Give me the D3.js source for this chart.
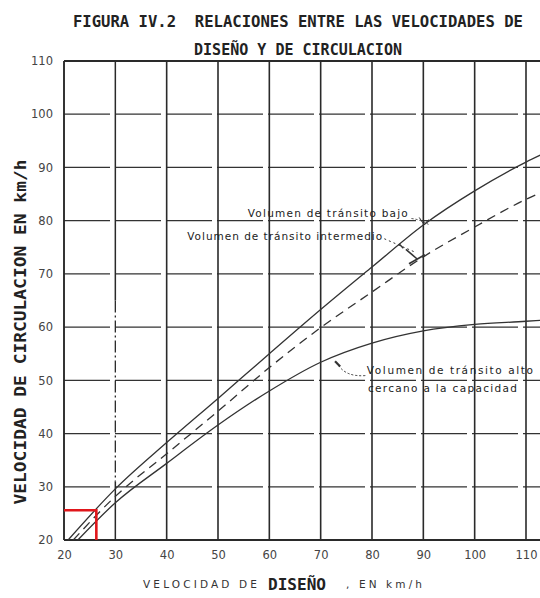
<!DOCTYPE html>
<html>
<head>
<meta charset="utf-8">
<script src="https://cdn.jsdelivr.net/npm/d3@7"></script>
<style>
  html, body { margin: 0; padding: 0; background: #fff; }
  svg { display: block; }
</style>
</head>
<body>
<svg id="chart" width="540" height="598"></svg>
<script>
// ---------- data ----------
const tickValues = [20, 30, 40, 50, 60, 70, 80, 90, 100, 110];
const tickLabels = ["20", "30", "40", "50", "60", "70", "80", "90", "100", "110"];

// Volumen de tránsito bajo (solid, upper)
const lowDesign   = [20.8, 30, 40, 50, 60, 70, 80, 90, 100, 110, 113];
const lowRunning  = [20, 29.6, 38.3, 46.6, 55, 63.3, 71.3, 79.2, 85.6, 91, 92.4];
// Volumen de tránsito intermedio (dashed, middle)
const midDesign   = [21.8, 30, 40, 50, 60, 70, 80, 90, 100, 110, 113];
const midRunning  = [20, 28.2, 36.2, 44.2, 52.4, 59.9, 66.6, 73.2, 78.8, 84, 85.3];
// Volumen de tránsito alto, cercano a la capacidad (solid, lower)
const highDesign  = [22.7, 30, 40, 50, 60, 70, 80, 90, 100, 110, 113];
const highRunning = [20, 27, 34.4, 41.6, 48, 53.4, 57, 59.3, 60.5, 61.1, 61.3];

// red marker (design speed, running speed)
const markerDesign = [26.3];
const markerRunning = [25.6];

const titleLines = ["FIGURA IV.2  RELACIONES ENTRE LAS VELOCIDADES DE", "DISEÑO Y DE CIRCULACION"];
const yTitle = "VELOCIDAD DE CIRCULACION EN km/h";
const xTitleParts = ["VELOCIDAD DE", "DISEÑO", ", EN km/h"];
const noteLow = "Volumen de tránsito bajo";
const noteMid = "Volumen de tránsito intermedio";
const noteHigh = ["Volumen de tránsito alto", "cercano a la capacidad"];

// ---------- drawing ----------
const svg = d3.select("#chart");
const x = d3.scaleLinear().domain([20, 110]).range([64, 526]);
const y = d3.scaleLinear().domain([20, 110]).range([540, 61]);
const ink = "#2a2a2a";

svg.append("defs").append("clipPath").attr("id", "plot")
  .append("rect").attr("x", x(20)).attr("y", y(110) - 1)
  .attr("width", 540 - x(20)).attr("height", y(20) - y(110) + 2);

const grid = svg.append("g").attr("clip-path", "url(#plot)");

// horizontal grid (long dashes)
grid.selectAll("line.h").data(tickValues.filter(v => v > 20 && v < 110)).enter()
  .append("line").attr("class", "h")
  .attr("x1", x(20)).attr("x2", 540)
  .attr("y1", d => y(d)).attr("y2", d => y(d))
  .attr("stroke", "#333").attr("stroke-width", 1.2)
  .attr("stroke-dasharray", "46,5");

// vertical grid (solid), x=30 partly dash-dot as in the scan
tickValues.filter(v => v > 20).forEach(v => {
  if (v === 30) {
    grid.append("line").attr("x1", x(v)).attr("x2", x(v)).attr("y1", y(110)).attr("y2", y(65))
      .attr("stroke", ink).attr("stroke-width", 1.5);
    grid.append("line").attr("x1", x(v)).attr("x2", x(v)).attr("y1", y(65)).attr("y2", y(31))
      .attr("stroke", ink).attr("stroke-width", 1.3).attr("stroke-dasharray", "12,3,2,3");
    grid.append("line").attr("x1", x(v)).attr("x2", x(v)).attr("y1", y(31)).attr("y2", y(20))
      .attr("stroke", ink).attr("stroke-width", 1.5);
  } else {
    grid.append("line").attr("x1", x(v)).attr("x2", x(v)).attr("y1", y(110)).attr("y2", y(20))
      .attr("stroke", ink).attr("stroke-width", 1.6);
  }
});

// frame: top, left, bottom
svg.append("line").attr("x1", x(20)).attr("x2", 540).attr("y1", y(110)).attr("y2", y(110))
  .attr("stroke", ink).attr("stroke-width", 1.8);
svg.append("line").attr("x1", x(20)).attr("x2", x(20)).attr("y1", y(110)).attr("y2", y(20))
  .attr("stroke", ink).attr("stroke-width", 1.9);
svg.append("line").attr("x1", x(20)).attr("x2", 540).attr("y1", y(20)).attr("y2", y(20))
  .attr("stroke", ink).attr("stroke-width", 1.9);

// curves
const line = d3.line().x(d => x(d[0])).y(d => y(d[1])).curve(d3.curveMonotoneX);
const series = [
  { xs: lowDesign, ys: lowRunning, dash: null },
  { xs: midDesign, ys: midRunning, dash: "9,6" },
  { xs: highDesign, ys: highRunning, dash: null }
];
const curves = svg.append("g").attr("clip-path", "url(#plot)");
series.forEach(s => {
  curves.append("path")
    .attr("d", line(d3.zip(s.xs, s.ys)))
    .attr("fill", "none").attr("stroke", "#333").attr("stroke-width", 1.3)
    .attr("stroke-dasharray", s.dash);
});

// axes tick labels
const yAxis = d3.axisLeft(y).tickValues(tickValues).tickFormat((d, i) => tickLabels[i])
  .tickSize(0).tickPadding(11);
const yg = svg.append("g").attr("transform", `translate(${x(20)},0)`).call(yAxis);
const xAxis = d3.axisBottom(x).tickValues(tickValues).tickFormat((d, i) => tickLabels[i])
  .tickSize(0).tickPadding(11);
const xg = svg.append("g").attr("transform", `translate(0,${y(20)})`).call(xAxis);
[yg, xg].forEach(g => {
  g.select(".domain").remove();
  g.selectAll("text").attr("font-family", "DejaVu Sans, sans-serif")
    .attr("font-size", 11.5).attr("fill", "#444");
});

// red marker
svg.append("path")
  .attr("d", `M${x(20)},${y(markerRunning[0])}H${x(markerDesign[0])}V${y(20)}`)
  .attr("fill", "none").attr("stroke", "#e0161b").attr("stroke-width", 2.6);

// title
const mono = "DejaVu Sans Mono, monospace";
svg.append("text").attr("x", 73).attr("y", 27).text(titleLines[0])
  .attr("xml:space", "preserve").style("white-space", "pre")
  .attr("font-family", mono).attr("font-weight", "bold").attr("font-size", 15.5)
  .attr("fill", "#222").attr("textLength", 450).attr("lengthAdjust", "spacingAndGlyphs");
svg.append("text").attr("x", 194).attr("y", 55).text(titleLines[1])
  .attr("font-family", mono).attr("font-weight", "bold").attr("font-size", 15.5)
  .attr("fill", "#222").attr("textLength", 208).attr("lengthAdjust", "spacingAndGlyphs");

// y title
svg.append("text")
  .attr("transform", "translate(26,332) rotate(-90)")
  .attr("text-anchor", "middle").text(yTitle)
  .attr("font-family", mono).attr("font-weight", "bold").attr("font-size", 15)
  .attr("fill", "#222").attr("textLength", 345).attr("lengthAdjust", "spacingAndGlyphs");

// x title
svg.append("text").attr("x", 143).attr("y", 588).text(xTitleParts[0])
  .attr("font-family", "DejaVu Sans, sans-serif").attr("font-size", 10.5)
  .attr("fill", "#333").attr("textLength", 114).attr("lengthAdjust", "spacing");
svg.append("text").attr("x", 268).attr("y", 590).text(xTitleParts[1])
  .attr("font-family", mono).attr("font-weight", "bold").attr("font-size", 16)
  .attr("fill", "#222").attr("textLength", 58).attr("lengthAdjust", "spacingAndGlyphs");
svg.append("text").attr("x", 346).attr("y", 588).text(xTitleParts[2])
  .attr("font-family", "DejaVu Sans, sans-serif").attr("font-size", 10.5)
  .attr("fill", "#333").attr("textLength", 76).attr("lengthAdjust", "spacing");

// annotations
const ann = svg.append("g").attr("font-family", "DejaVu Sans, sans-serif")
  .attr("font-size", 10.5).attr("fill", "#222");
ann.append("text").attr("x", x(55.8)).attr("y", y(80.6)).text(noteLow)
  .attr("textLength", 160).attr("lengthAdjust", "spacing");
ann.append("text").attr("x", x(44)).attr("y", y(76.3)).text(noteMid)
  .attr("textLength", 195).attr("lengthAdjust", "spacing");
ann.append("text").attr("x", x(79)).attr("y", y(51.1)).text(noteHigh[0])
  .attr("textLength", 166).attr("lengthAdjust", "spacing");
ann.append("text").attr("x", x(79.2)).attr("y", y(47.8)).text(noteHigh[1])
  .attr("textLength", 149).attr("lengthAdjust", "spacing");

// leader lines
const lead = svg.append("g").attr("fill", "none").attr("stroke", "#333").attr("stroke-width", 1);
lead.append("path").attr("d", `M${x(87.7)},${y(80.4)} Q${x(89.5)},${y(80.2)} ${x(91)},${y(79.3)}`)
  .attr("stroke-dasharray", "2,2");
lead.append("path").attr("d", `M${x(89.2)},${y(80.6)} L${x(90.2)},${y(79.2)} L${x(91)},${y(80.2)}`);
lead.append("path").attr("d", `M${x(82.4)},${y(76.6)} L${x(88.6)},${y(74.0)}`)
  .attr("stroke-dasharray", "2,3");
lead.append("path").attr("d", `M${x(86.6)},${y(74.6)} L${x(88.8)},${y(72.8)}`).attr("stroke-width", 1.6);
lead.append("path").attr("d", `M${x(87.2)},${y(71.9)} L${x(90.3)},${y(73.6)}`).attr("stroke-width", 1.6);
lead.append("path").attr("d", `M${x(85.3)},${y(75.6)} L${x(86.1)},${y(74.8)}`).attr("stroke-width", 1.4);
lead.append("path").attr("d", `M${x(73.5)},${y(52.8)} Q${x(75)},${y(50.6)} ${x(78.8)},${y(50.9)}`)
  .attr("stroke-dasharray", "2,2");
lead.append("path").attr("d", `M${x(72.8)},${y(53.6)} L${x(73.8)},${y(52.6)}`).attr("stroke-width", 2.2);
</script>
</body>
</html>
